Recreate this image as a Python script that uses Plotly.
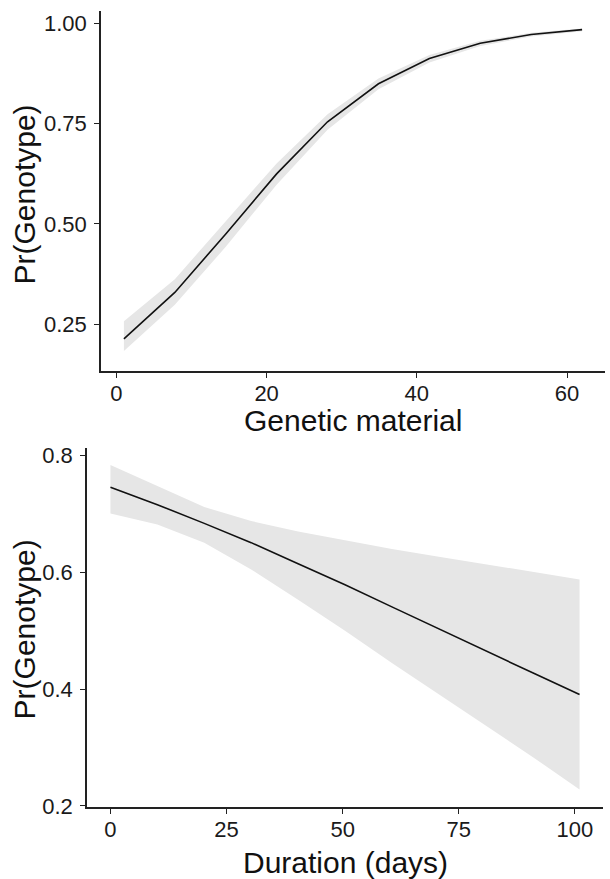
import plotly.graph_objects as go

# ---- Data: top panel (Genetic material) ----
gm_x = [1, 7.78, 14.56, 21.33, 28.11, 34.89, 41.67, 48.44, 55.22, 62]
gm_fit = [0.213, 0.329, 0.475, 0.625, 0.755, 0.850, 0.913, 0.951, 0.973, 0.985]
gm_lo = [0.183, 0.298, 0.443, 0.598, 0.735, 0.836, 0.903, 0.944, 0.968, 0.981]
gm_hi = [0.257, 0.362, 0.507, 0.651, 0.774, 0.863, 0.922, 0.957, 0.977, 0.988]
gm_yticks = [0.25, 0.50, 0.75, 1.00]
gm_yticklabels = ["0.25", "0.50", "0.75", "1.00"]
gm_xticks = [0, 20, 40, 60]

# ---- Data: bottom panel (Duration) ----
du_x = [0, 10.1, 20.2, 30.3, 40.4, 50.5, 60.6, 70.7, 80.8, 90.9, 101]
du_fit = [0.746, 0.716, 0.684, 0.651, 0.615, 0.579, 0.541, 0.503, 0.465, 0.428, 0.391]
du_lo = [0.701, 0.682, 0.651, 0.605, 0.553, 0.500, 0.445, 0.391, 0.338, 0.284, 0.228]
du_hi = [0.784, 0.748, 0.712, 0.688, 0.670, 0.655, 0.640, 0.627, 0.614, 0.601, 0.588]
du_yticks = [0.2, 0.4, 0.6, 0.8]
du_yticklabels = ["0.2", "0.4", "0.6", "0.8"]
du_xticks = [0, 25, 50, 75, 100]

W, H = 610, 879
FONT = "Liberation Sans, Arial, Helvetica, sans-serif"
BAND = "#e6e6e6"
LINE = "#111111"
AX = "#222222"

fig = go.Figure()

# top panel
fig.add_trace(go.Scatter(x=gm_x, y=gm_hi, mode="lines", line=dict(width=0, color=BAND),
                         showlegend=False, hoverinfo="skip", xaxis="x", yaxis="y"))
fig.add_trace(go.Scatter(x=gm_x, y=gm_lo, mode="lines", line=dict(width=0, color=BAND),
                         fill="tonexty", fillcolor=BAND, showlegend=False, hoverinfo="skip",
                         xaxis="x", yaxis="y"))
fig.add_trace(go.Scatter(x=gm_x, y=gm_fit, mode="lines", line=dict(width=1.6, color=LINE),
                         showlegend=False, xaxis="x", yaxis="y"))

# bottom panel
fig.add_trace(go.Scatter(x=du_x, y=du_hi, mode="lines", line=dict(width=0, color=BAND),
                         showlegend=False, hoverinfo="skip", xaxis="x2", yaxis="y2"))
fig.add_trace(go.Scatter(x=du_x, y=du_lo, mode="lines", line=dict(width=0, color=BAND),
                         fill="tonexty", fillcolor=BAND, showlegend=False, hoverinfo="skip",
                         xaxis="x2", yaxis="y2"))
fig.add_trace(go.Scatter(x=du_x, y=du_fit, mode="lines", line=dict(width=1.6, color=LINE),
                         showlegend=False, xaxis="x2", yaxis="y2"))

axis_common = dict(showline=True, linecolor=AX, linewidth=1.6, ticks="outside",
                   ticklen=5, tickwidth=1.4, tickcolor=AX, showgrid=False, zeroline=False,
                   tickfont=dict(family=FONT, size=22, color="#1a1a1a"), mirror=False)

fig.update_layout(
    width=W, height=H,
    margin=dict(l=0, r=0, t=0, b=0),
    paper_bgcolor="white", plot_bgcolor="white",
    showlegend=False,
    xaxis=dict(domain=[101 / W, 605 / W], range=[-2.05, 65.05], anchor="y",
               tickvals=gm_xticks, ticktext=[str(v) for v in gm_xticks],
               ticklabelstandoff=-3, **axis_common),
    yaxis=dict(domain=[1 - 374 / H, 1 - 7 / H], range=[0.1324, 1.0319], anchor="x",
               tickvals=gm_yticks, ticktext=gm_yticklabels, ticklabelstandoff=3, **axis_common),
    xaxis2=dict(domain=[87 / W, 603 / W], range=[-5.05, 106.05], anchor="y2",
                tickvals=du_xticks, ticktext=[str(v) for v in du_xticks],
                ticklabelstandoff=-3, **axis_common),
    yaxis2=dict(domain=[1 - 818 / H, 1 - 452 / H], range=[0.198, 0.8135], anchor="x2",
                tickvals=du_yticks, ticktext=du_yticklabels, ticklabelstandoff=3, **axis_common),
)

title_font = dict(family=FONT, size=30, color="#111111")
annotations = [
    dict(text="Genetic material", x=353 / W, y=1 - 443 / H, xref="paper", yref="paper",
         xanchor="center", yanchor="bottom", showarrow=False, font=title_font),
    dict(text="Duration (days)", x=345.5 / W, y=-14 / H, xref="paper", yref="paper",
         xanchor="center", yanchor="bottom", showarrow=False, font=title_font),
    dict(text="Pr(Genotype)", x=24 / W, y=1 - 194 / H, xref="paper", yref="paper",
         xanchor="center", yanchor="middle", textangle=-90, showarrow=False, font=title_font),
    dict(text="Pr(Genotype)", x=24 / W, y=1 - 637 / H, xref="paper", yref="paper",
         xanchor="center", yanchor="middle", textangle=-90, showarrow=False, font=title_font),
]
fig.update_layout(annotations=annotations)

fig.write_html("out.html", config={"displayModeBar": False})
